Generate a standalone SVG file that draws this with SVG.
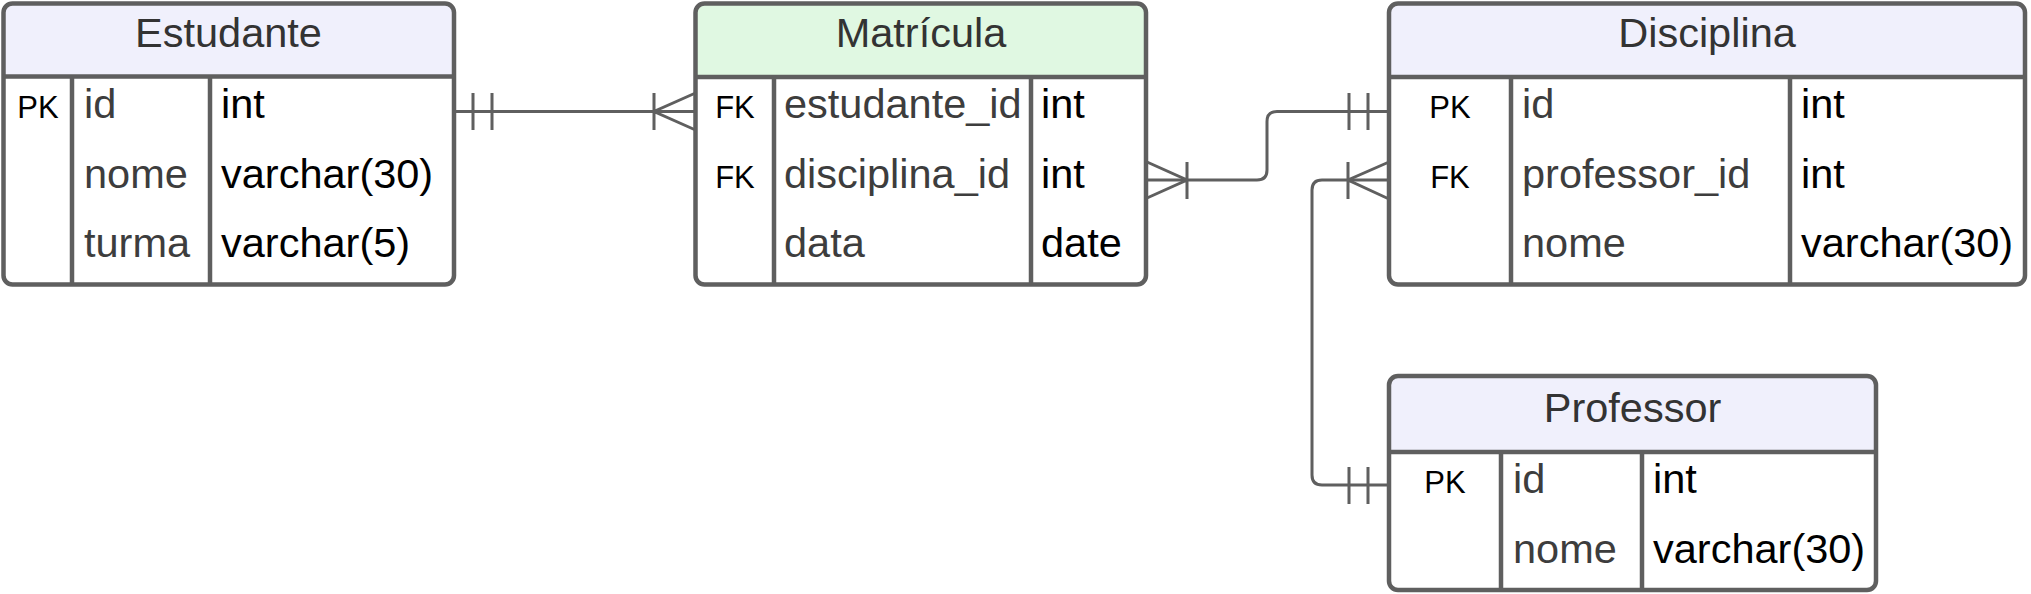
<svg xmlns="http://www.w3.org/2000/svg" width="2031" height="594" viewBox="0 0 2031 594">
<style>
.box{fill:#ffffff;stroke:none}
.outline{fill:none;stroke:#5f5f5f;stroke-width:4.5}
.hdr{stroke:none}
.hdr-blue{fill:#f0f0fc}
.hdr-green{fill:#e0f8e2}
.div{stroke:#5f5f5f;stroke-width:4.5;fill:none}
.title{font-family:"Liberation Sans",Arial,sans-serif;font-size:41.5px;fill:#333333;text-anchor:middle}
.key{font-family:"Liberation Sans",Arial,sans-serif;font-size:31px;fill:#000000;text-anchor:middle}
.fname{font-family:"Liberation Sans",Arial,sans-serif;font-size:41.5px;fill:#3d3d3d}
.ftype{font-family:"Liberation Sans",Arial,sans-serif;font-size:41.5px;fill:#000000}
.conn{fill:none;stroke:#5f5f5f;stroke-width:3}
</style>
<rect width="2031" height="594" fill="#ffffff"/>

<g id="connectors">
  <!-- Estudante.id -> Matricula.estudante_id -->
  <g id="c1">
    <path class="conn" d="M454 111.5 H695.5"/>
    <path class="conn" d="M473 93 V130 M492 93 V130"/>
    <path class="conn" d="M654 93 V130 M695.5 93 L654 111.5 L695.5 130"/>
  </g>
  <!-- Matricula.disciplina_id -> Disciplina.id -->
  <g id="c2">
    <path class="conn" d="M1146 180 H1257 Q1267 180 1267 170 V121.5 Q1267 111.5 1277 111.5 H1389"/>
    <path class="conn" d="M1147 162 L1187 180 L1147 198 M1187 162 V199"/>
    <path class="conn" d="M1349 93 V130 M1368 93 V130"/>
  </g>
  <!-- Disciplina.professor_id -> Professor.id -->
  <g id="c3">
    <path class="conn" d="M1389 180 H1322 Q1312 180 1312 190 V475 Q1312 485 1322 485 H1389"/>
    <path class="conn" d="M1348 162 V199 M1389 162 L1348 180 L1389 199"/>
    <path class="conn" d="M1349 467 V504 M1368 467 V504"/>
  </g>
</g>

<g id="estudante">
  <rect class="box" x="3.5" y="3.5" width="450.5" height="281" rx="9"/>
  <path class="hdr hdr-blue" d="M3.5 76.5 V12.5 Q3.5 3.5 12.5 3.5 H445 Q454 3.5 454 12.5 V76.5 Z"/>
  <rect class="outline" x="3.5" y="3.5" width="450.5" height="281" rx="9"/>
  <path class="div" d="M3.5 76.5 H454 M72 76.5 V284.5 M210 76.5 V284.5"/>
  <text class="title" x="228.5" y="47">Estudante</text>
  <text class="key" x="38" y="118">PK</text>
  <text class="fname" x="84" y="118">id</text>
  <text class="fname" x="84" y="188">nome</text>
  <text class="fname" x="84" y="257">turma</text>
  <text class="ftype" x="221" y="118">int</text>
  <text class="ftype" x="221" y="188">varchar(30)</text>
  <text class="ftype" x="221" y="257">varchar(5)</text>
</g>

<g id="matricula">
  <rect class="box" x="695.5" y="3.5" width="450.5" height="281" rx="9"/>
  <path class="hdr hdr-green" d="M695.5 77 V12.5 Q695.5 3.5 704.5 3.5 H1137 Q1146 3.5 1146 12.5 V77 Z"/>
  <rect class="outline" x="695.5" y="3.5" width="450.5" height="281" rx="9"/>
  <path class="div" d="M695.5 77 H1146 M774 77 V284.5 M1031 77 V284.5"/>
  <text class="title" x="921" y="47">Matrícula</text>
  <text class="key" x="735" y="118">FK</text>
  <text class="key" x="735" y="188">FK</text>
  <text class="fname" x="784" y="118">estudante_id</text>
  <text class="fname" x="784" y="188">disciplina_id</text>
  <text class="fname" x="784" y="257">data</text>
  <text class="ftype" x="1041" y="118">int</text>
  <text class="ftype" x="1041" y="188">int</text>
  <text class="ftype" x="1041" y="257">date</text>
</g>

<g id="disciplina">
  <rect class="box" x="1389" y="3.5" width="636" height="281" rx="9"/>
  <path class="hdr hdr-blue" d="M1389 77 V12.5 Q1389 3.5 1398 3.5 H2016 Q2025 3.5 2025 12.5 V77 Z"/>
  <rect class="outline" x="1389" y="3.5" width="636" height="281" rx="9"/>
  <path class="div" d="M1389 77 H2025 M1511 77 V284.5 M1790 77 V284.5"/>
  <text class="title" x="1707" y="47">Disciplina</text>
  <text class="key" x="1450" y="118">PK</text>
  <text class="key" x="1450" y="188">FK</text>
  <text class="fname" x="1522" y="118">id</text>
  <text class="fname" x="1522" y="188">professor_id</text>
  <text class="fname" x="1522" y="257">nome</text>
  <text class="ftype" x="1801" y="118">int</text>
  <text class="ftype" x="1801" y="188">int</text>
  <text class="ftype" x="1801" y="257">varchar(30)</text>
</g>

<g id="professor">
  <rect class="box" x="1389" y="376" width="487" height="214" rx="9"/>
  <path class="hdr hdr-blue" d="M1389 452 V385 Q1389 376 1398 376 H1867 Q1876 376 1876 385 V452 Z"/>
  <rect class="outline" x="1389" y="376" width="487" height="214" rx="9"/>
  <path class="div" d="M1389 452 H1876 M1501 452 V590 M1642 452 V590"/>
  <text class="title" x="1632.5" y="422">Professor</text>
  <text class="key" x="1445" y="493">PK</text>
  <text class="fname" x="1513" y="493">id</text>
  <text class="fname" x="1513" y="563">nome</text>
  <text class="ftype" x="1653" y="493">int</text>
  <text class="ftype" x="1653" y="563">varchar(30)</text>
</g>
</svg>
